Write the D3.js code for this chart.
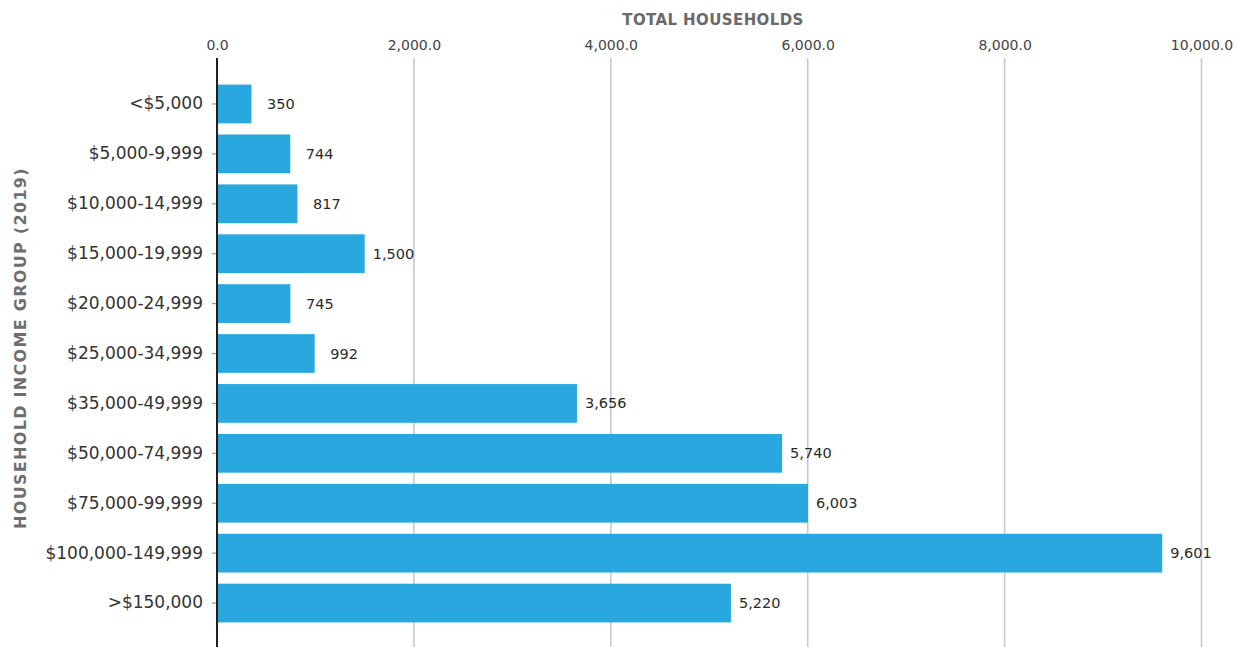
<!DOCTYPE html>
<html>
<head>
<meta charset="utf-8">
<script src="https://cdn.jsdelivr.net/npm/d3@7"></script>
<style>
  html, body { margin: 0; padding: 0; background: #fff; }
  svg { display: block; font-family: "DejaVu Sans", sans-serif; }
</style>
</head>
<body>
<svg id="chart" width="1238" height="647"></svg>
<script>
// Household income distribution, 2019
const incomeGroups = [
  "<$5,000", "$5,000-9,999", "$10,000-14,999", "$15,000-19,999",
  "$20,000-24,999", "$25,000-34,999", "$35,000-49,999", "$50,000-74,999",
  "$75,000-99,999", "$100,000-149,999", ">$150,000"
];
const households = [350, 744, 817, 1500, 745, 992, 3656, 5740, 6003, 9601, 5220];
const xTickValues = [0, 2000, 4000, 6000, 8000, 10000];
const xTitle = "TOTAL HOUSEHOLDS";
const yTitle = "HOUSEHOLD INCOME GROUP (2019)";

const svg = d3.select("#chart");
const W = 1238, H = 647;
const left = 217, right = 1201.5, plotTop = 58;

const x = d3.scaleLinear().domain([0, 10000]).range([left, right]);
const y = d3.scaleBand().domain(incomeGroups).range([79, 628])
  .paddingInner(0.224).paddingOuter(0.112);

// vertical gridlines
svg.append("g")
  .selectAll("line")
  .data(xTickValues.filter(d => d > 0))
  .join("line")
  .attr("x1", d => x(d)).attr("x2", d => x(d))
  .attr("y1", plotTop).attr("y2", H)
  .attr("stroke", "#c3cad1")
  .attr("stroke-width", 1.6);

// top axis labels
const xAxis = d3.axisTop(x).tickValues(xTickValues).tickFormat(d3.format(",.1f")).tickSize(0).tickPadding(0);
const gx = svg.append("g").attr("transform", `translate(0,${plotTop - 8})`).call(xAxis);
gx.select(".domain").remove();
gx.selectAll("text")
  .attr("fill", "#444")
  .attr("font-size", "14px")
  .attr("font-family", "DejaVu Sans, sans-serif");

// bars
svg.append("g")
  .selectAll("rect")
  .data(incomeGroups)
  .join("rect")
  .attr("x", x(0))
  .attr("y", d => y(d))
  .attr("width", (d, i) => x(households[i]) - x(0))
  .attr("height", y.bandwidth())
  .attr("fill", "#29a8df");

// value labels
const fmt = d3.format(",");
svg.append("g")
  .selectAll("text")
  .data(incomeGroups)
  .join("text")
  .attr("x", (d, i) => x(households[i]) + 8 + (5 - fmt(households[i]).length) * 3.8)
  .attr("y", d => y(d) + y.bandwidth() / 2)
  .attr("dy", "0.35em")
  .attr("font-size", "14.5px")
  .attr("fill", "#2a2a2a")
  .text((d, i) => fmt(households[i]));

// left axis with category labels
const yAxis = d3.axisLeft(y).tickSize(5).tickPadding(9);
const gy = svg.append("g").attr("transform", `translate(${left},0)`).call(yAxis);
gy.select(".domain").remove();
gy.selectAll(".tick line").attr("stroke", "#999").attr("stroke-width", 1.2);
gy.selectAll("text")
  .attr("fill", "#333")
  .attr("font-size", "17px")
  .attr("font-family", "DejaVu Sans, sans-serif");

// axis spine
svg.append("line")
  .attr("x1", left).attr("x2", left)
  .attr("y1", plotTop).attr("y2", H)
  .attr("stroke", "#1f1f1f")
  .attr("stroke-width", 2);

// axis titles
svg.append("text")
  .attr("x", 713).attr("y", 25)
  .attr("text-anchor", "middle")
  .attr("font-size", "15px")
  .attr("font-weight", "bold")
  .attr("letter-spacing", "0.4px")
  .attr("fill", "#6a6a6a")
  .text(xTitle);

svg.append("text")
  .attr("transform", "translate(26,348) rotate(-90)")
  .attr("text-anchor", "middle")
  .attr("font-size", "16px")
  .attr("font-weight", "bold")
  .attr("letter-spacing", "1.3px")
  .attr("fill", "#6e6e6e")
  .text(yTitle);
</script>
</body>
</html>
